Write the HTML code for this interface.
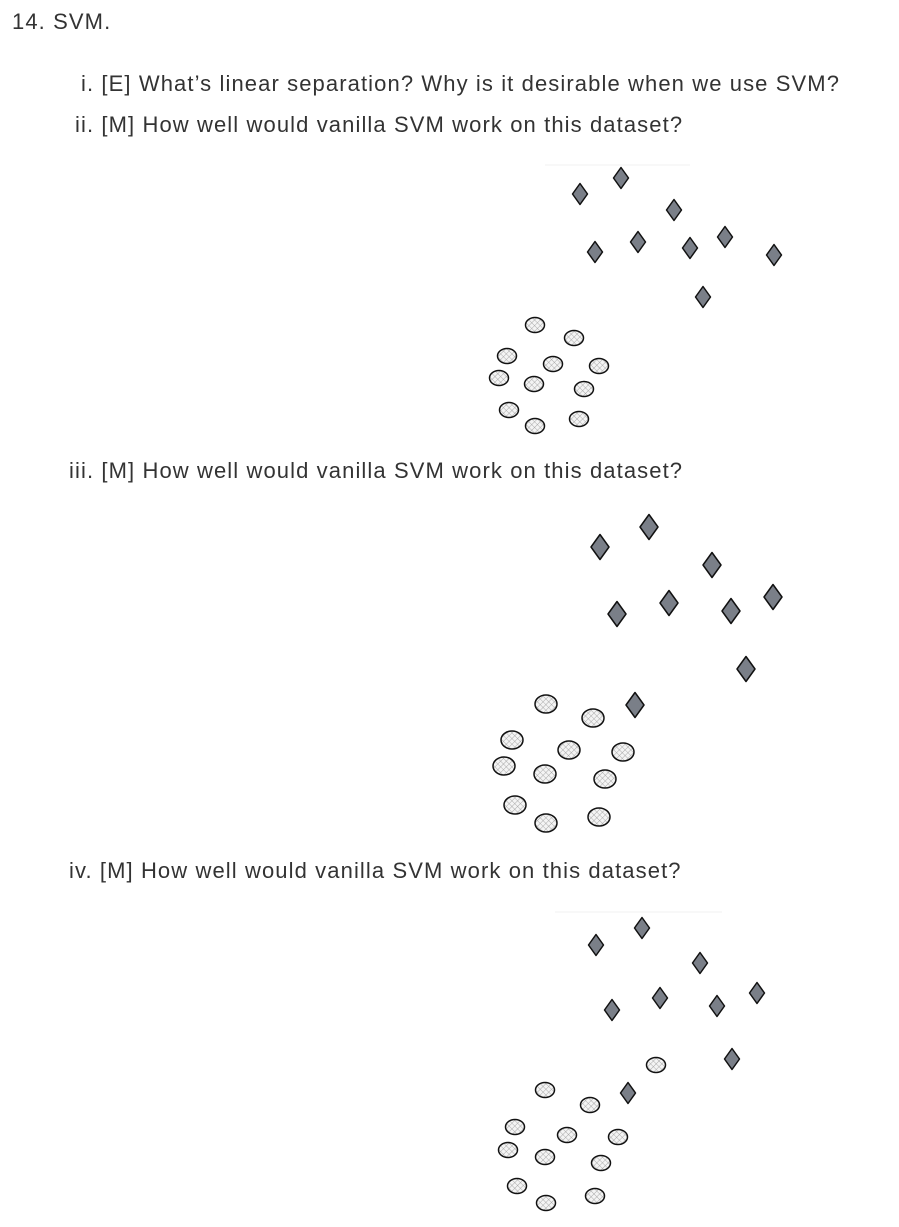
<!DOCTYPE html>
<html><head><meta charset="utf-8"><style>
body{margin:0;width:899px;height:1227px;background:#fff;position:relative;font-family:"Liberation Sans",Arial,sans-serif;color:#333;font-size:22px;letter-spacing:1.1px;overflow:hidden}
.t{position:absolute;white-space:nowrap;line-height:24px}
svg{position:absolute;left:0;top:0}
</style></head><body>
<div class="t" style="left:12px;top:10px">14. SVM.</div>
<div class="t" style="left:81px;top:72px">i. [E] What’s linear separation? Why is it desirable when we use SVM?</div>
<div class="t" style="left:75px;top:113px">ii. [M] How well would vanilla SVM work on this dataset?</div>
<div class="t" style="left:69px;top:459px">iii. [M] How well would vanilla SVM work on this dataset?</div>
<div class="t" style="left:69px;top:859px">iv. [M] How well would vanilla SVM work on this dataset?</div>
<svg width="899" height="1227" viewBox="0 0 899 1227">
<defs><pattern id="h" width="4" height="4" patternUnits="userSpaceOnUse" patternTransform="rotate(45)"><rect width="4" height="4" fill="#f4f4f4"/><path d="M0 0H4M0 0V4" stroke="#999" stroke-width="0.8"/></pattern></defs>
<path d="M545 165H690M555 912H722" stroke="#f2f2f2" stroke-width="1"/>
<g id="g"></g>
</svg>
<script>
var g=document.getElementById('g'),s='';
function D(x,y,w,h){s+='<path d="M'+x+' '+(y-h/2)+'L'+(x+w/2)+' '+y+'L'+x+' '+(y+h/2)+'L'+(x-w/2)+' '+y+'Z" fill="#7a7f88" stroke="#111" stroke-width="1.5" stroke-linejoin="round"/>';}
function C(x,y,w,h){s+='<ellipse cx="'+x+'" cy="'+y+'" rx="'+w/2+'" ry="'+h/2+'" fill="url(#h)" stroke="#111" stroke-width="1.5"/>';}
[[580,194],[621,178],[674,210],[595,252],[638,242],[690,248],[725,237],[774,255],[703,297]].forEach(p=>D(p[0],p[1],15,21));
[[535,325],[574,338],[507,356],[499,378],[553,364],[534,384],[599,366],[584,389],[509,410],[535,426],[579,419]].forEach(p=>C(p[0],p[1],19,15));
[[600,547],[649,527],[712,565],[617,614],[669,603],[731,611],[773,597],[746,669],[635,705]].forEach(p=>D(p[0],p[1],18,25));
[[546,704],[593,718],[512,740],[504,766],[569,750],[545,774],[623,752],[605,779],[515,805],[546,823],[599,817]].forEach(p=>C(p[0],p[1],22,18));
[[596,945],[642,928],[700,963],[612,1010],[660,998],[717,1006],[757,993],[732,1059],[628,1093]].forEach(p=>D(p[0],p[1],15,21));
[[656,1065],[545,1090],[590,1105],[515,1127],[508,1150],[567,1135],[545,1157],[618,1137],[601,1163],[517,1186],[546,1203],[595,1196]].forEach(p=>C(p[0],p[1],19,15));
g.innerHTML=s;
</script>
</body></html>
